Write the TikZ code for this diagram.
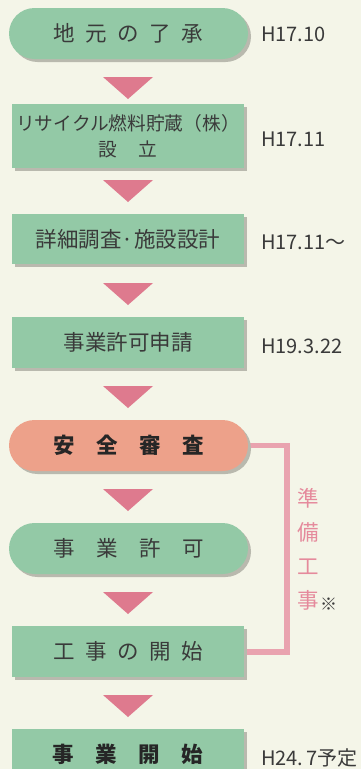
\documentclass[tikz,border=0pt]{standalone}
\usepackage{fontspec}
\newfontfamily\jp{Noto Sans CJK JP}
\usetikzlibrary{shadows}
\definecolor{bgc}{HTML}{F4F5E8}
\definecolor{greenc}{HTML}{93C9A6}
\definecolor{salmonc}{HTML}{EDA18A}
\definecolor{tric}{HTML}{DE7A8E}
\definecolor{brc}{HTML}{E9A3AF}
\definecolor{pinktxt}{HTML}{E58A9C}
\definecolor{shadc}{HTML}{B9B9AE}
\definecolor{txtc}{HTML}{3A3A3A}
\newcommand\gapa{\hspace{10.5pt}}
\newcommand\gapb{\hspace{21.5pt}}
\tikzset{
  boxbase/.style={inner sep=0pt, text=txtc, font=\jp\fontsize{21.5}{24}\selectfont,
    general shadow={shadow xshift=3pt, shadow yshift=-3pt, fill=shadc}},
  rectbox/.style={boxbase, fill=greenc, minimum width=232pt, minimum height=51pt},
  pillbox/.style={boxbase, fill=greenc, minimum width=239pt, minimum height=51pt, rounded corners=25.5pt},
  boldtxt/.style={text=black!85, font=\jp\bfseries\fontsize{21.5}{24}\selectfont},
  datelab/.style={anchor=west, inner sep=0pt, text=txtc, font=\jp\fontsize{20}{24}\selectfont},
  tri/.style={fill=tric},
  bracket/.style={draw=brc, line width=5.5pt, line join=miter}
}
\begin{document}
\begin{tikzpicture}[x=1pt,y=-1pt]
\fill[bgc] (0,0) rectangle (361,769);
\useasboundingbox (0,0) rectangle (361,769);
% bracket
\coordinate (brx) at (287,0);
\draw[bracket] (248,445.5) -| (brx |- 0,652) -- (246,652);
% boxes
\node[pillbox] (n1) at (128.5,33.5) {地\gapa 元\gapa の\gapa 了\gapa 承};
\node[rectbox, minimum height=64pt, align=center, font=\jp\fontsize{18.7}{26}\selectfont] (n2) at (128,136) {リサイクル燃料貯蔵（株）\\設\hspace{21pt}立};
\node[rectbox, minimum height=50pt] (n3) at (128,239) {詳細調査·施設設計};
\node[rectbox] (n4) at (128,342.5) {事業許可申請};
\node[pillbox, fill=salmonc, boldtxt] (n5) at (128.5,445.5) {安\gapb 全\gapb 審\gapb 査};
\node[pillbox] (n6) at (128.5,548.5) {事\gapb 業\gapb 許\gapb 可};
\node[rectbox] (n7) at (128,651.5) {工\gapa 事\gapa の\gapa 開\gapa 始};
\node[rectbox, boldtxt] (n8) at (128,754.5) {事\gapb 業\gapb 開\gapb 始};
% triangles
\foreach \t in {77,180,283,386,489,592,695}{
  \fill[tri] (103,\t) -- (153,\t) -- (128,\t+22) -- cycle;
}
% dates
\node[datelab] (d1) at (261,34) {H17.10};
\node[datelab] (d2) at (261,139) {H17.11};
\node[datelab] (d3) at (261,242) {H17.11〜};
\node[datelab] (d4) at (261,346) {H19.3.22};
\node[datelab] (d8) at (261,758) {H24.\,7予定};
% vertical label
\node[inner sep=0pt, text=pinktxt, align=center, font=\jp\fontsize{21.5}{34}\selectfont] (jb) at (308,549) {準\\備\\工\\事};
\node[inner sep=0pt, text=txtc, font=\jp\fontsize{17}{18}\selectfont, anchor=west] (kome) at (320,604) {※};
\end{tikzpicture}
\end{document}
